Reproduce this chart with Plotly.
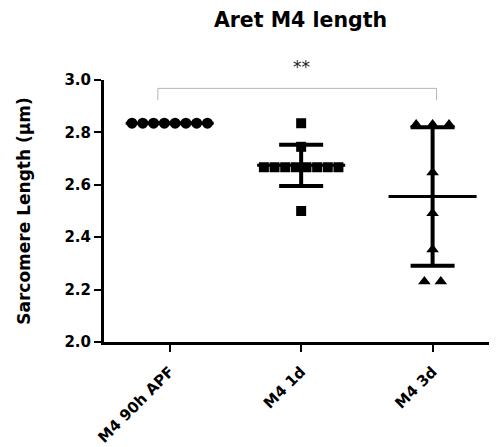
import numpy as np
import plotly.graph_objects as go

# Data
categories = ['M4 90h APF', 'M4 1d', 'M4 3d']
m4_90h_apf = [2.835, 2.835, 2.835, 2.835, 2.835, 2.835, 2.835, 2.835]
m4_1d = [2.835, 2.745, 2.667, 2.667, 2.667, 2.667, 2.667, 2.667, 2.667, 2.667, 2.5]
m4_3d = [2.83, 2.83, 2.83, 2.647, 2.491, 2.353, 2.231, 2.231]
significance = '**'

groups = [m4_90h_apf, m4_1d, m4_3d]
symbols = ['circle', 'square', 'triangle-up']
sizes = [11, 10, 11]
spreads = [0.082, 0.081, 0.125]

FONT = 'DejaVu Sans'

# page body has an 8px margin, so the figure is a bit smaller than the window
W, H = 489, 439


def spread_points(values, center, step):
    # column-scatter layout: equal values are spread side by side
    vals = np.array(values)
    out = np.zeros(len(vals))
    for v in np.unique(vals):
        idx = np.where(vals == v)[0]
        n = len(idx)
        for k, i in enumerate(idx):
            out[i] = center + (k - (n - 1) / 2) * step
    return out


fig = go.Figure()

for i, vals in enumerate(groups):
    fig.add_trace(go.Scatter(
        x=spread_points(vals, i, spreads[i]),
        y=vals,
        mode='markers',
        marker=dict(symbol=symbols[i], size=sizes[i], color='black',
                    line=dict(width=0)),
        hoverinfo='skip',
        showlegend=False,
    ))

means = [float(np.mean(v)) for v in groups]
sds = [float(np.std(v, ddof=1)) for v in groups]

# mean line (error_x) + SD bars (error_y)
fig.add_trace(go.Scatter(
    x=list(range(len(categories))),
    y=means,
    mode='markers',
    marker=dict(size=1, color='rgba(0,0,0,0)'),
    error_x=dict(type='constant', value=0.335, width=0, thickness=3,
                 color='black'),
    error_y=dict(type='data', array=sds, width=22, thickness=4,
                 color='black'),
    hoverinfo='skip',
    showlegend=False,
))

# significance bracket between first and last group
bracket_color = '#b5b5b5'
fig.add_shape(type='line', xref='x', yref='y', x0=-0.09, x1=2.03,
              y0=2.968, y1=2.968, line=dict(color=bracket_color, width=1))
fig.add_shape(type='line', xref='x', yref='y', x0=-0.09, x1=-0.09,
              y0=2.968, y1=2.923, line=dict(color=bracket_color, width=1))
fig.add_shape(type='line', xref='x', yref='y', x0=2.03, x1=2.03,
              y0=2.968, y1=2.923, line=dict(color=bracket_color, width=1))
fig.add_annotation(x=1, y=1.05, xref='x', yref='paper', text=significance,
                   showarrow=False, yanchor='middle',
                   font=dict(family=FONT, size=17, color='#222222'))

fig.update_layout(
    width=W,
    height=H,
    paper_bgcolor='white',
    plot_bgcolor='white',
    margin=dict(l=96, r=0, t=72, b=105),
    font=dict(family=FONT, color='black'),
    title=dict(text='Aret M4 length', x=0.5, xref='paper',
               y=1 - 12 / H, yref='container', yanchor='middle',
               xanchor='center',
               font=dict(family=FONT, size=20.5, weight='bold',
                         color='black')),
    xaxis=dict(
        range=[-0.5, 2.49],
        tickvals=list(range(len(categories))),
        ticktext=categories,
        tickangle=-45,
        showline=True, linecolor='black', linewidth=3,
        ticks='outside', ticklen=7, tickwidth=2, tickcolor='black',
        ticklabelstandoff=5,
        showgrid=False, zeroline=False,
        tickfont=dict(family=FONT, size=15, weight='bold', color='black'),
    ),
    yaxis=dict(
        range=[2.0, 3.0],
        dtick=0.2,
        tickformat='.1f',
        showline=True, linecolor='black', linewidth=3,
        ticks='outside', ticklen=7, tickwidth=2, tickcolor='black',
        showgrid=False, zeroline=False,
        tickfont=dict(family=FONT, size=15, weight='bold', color='black'),
        title=dict(text='Sarcomere Length (µm)', standoff=30,
                   font=dict(family=FONT, size=17, weight='bold',
                             color='black')),
    ),
)

fig.write_html("out.html")
